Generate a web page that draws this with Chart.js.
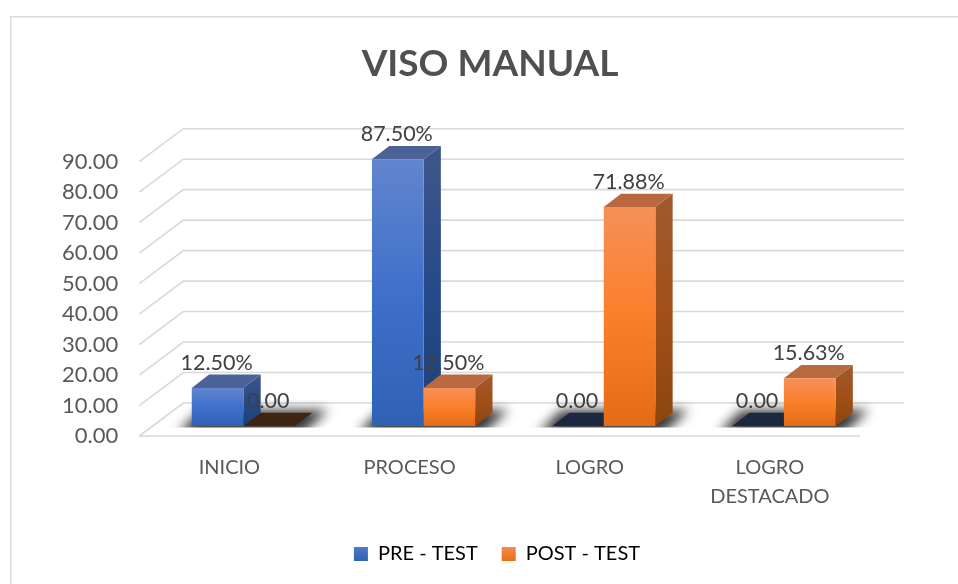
<!DOCTYPE html>
<html>
<head>
<meta charset="utf-8">
<style>html,body{margin:0;padding:0;background:#fff}canvas{display:block}</style>
<script src="https://cdn.jsdelivr.net/npm/chart.js@4/dist/chart.umd.js"></script>
</head>
<body>
<div style="width:958px;height:584px"><canvas id="c" width="958" height="584"></canvas></div>
<script>
const categories = ['INICIO', 'PROCESO', 'LOGRO', ['LOGRO', 'DESTACADO']];
const preTest = [12.5, 87.5, 0, 0];
const postTest = [0, 12.5, 71.88, 15.63];
const preLabels = ['12.50%', '87.50%', '0.00', '0.00'];
const postLabels = ['0.00', '12.50%', '71.88%', '15.63%'];
const seriesNames = ['PRE - TEST', 'POST - TEST'];

const FONT = 'Lato';
const LEFT = 139.3, RIGHT = 860, TOP = 161.7, BOTTOM = 436;
const WALL_DX = 44, WALL_DY = 33;
const BAR_SHIFT_X = 14, BAR_SHIFT_Y = -10, BAR_DX = 17.3, BAR_DY = 13.3;
const styles = [
  { front: ['#6285ce', '#3f70ca', '#2f61b5'], side: ['#3f5788', '#264a8a', '#1e3f7a'], top: '#4a6297', flat: '#1c2840', swatch: ['#4f78c8', '#2f61b5'] },
  { front: ['#f69058', '#fb7f2b', '#e56b17'], side: ['#a05a30', '#a05018', '#8e450e'], top: '#b8693f', flat: '#3f2412', swatch: ['#f58b4b', '#e96f1c'] }
];

function barGradient(c, i) {
  const chart = c.chart, s = styles[i];
  if (!chart.chartArea || c.parsed === undefined) return s.front[1];
  const y = chart.scales.y;
  const g = chart.ctx.createLinearGradient(0, y.getPixelForValue(c.parsed.y), 0, y.getPixelForValue(0));
  g.addColorStop(0, s.front[0]); g.addColorStop(.5, s.front[1]); g.addColorStop(1, s.front[2]);
  return g;
}
function poly(ctx, pts, fill) {
  ctx.beginPath();
  pts.forEach((p, i) => i ? ctx.lineTo(p[0], p[1]) : ctx.moveTo(p[0], p[1]));
  ctx.closePath();
  ctx.fillStyle = fill;
  ctx.fill();
}

const scene3d = {
  id: 'scene3d',
  afterLayout(chart) {
    const lg = chart.legend, tt = chart.titleBlock;
    tt.left += 60; tt.right += 60;
    lg.left += 67; lg.right += 67;
    const h = lg.height; lg.top = 520; lg.bottom = 520 + h;
  },
  beforeDraw(chart) {
    const ctx = chart.ctx;
    ctx.save();
    ctx.fillStyle = '#fff'; ctx.fillRect(0, 0, 958, 584);
    ctx.fillStyle = '#dcdcdc';
    ctx.fillRect(10, 16, 948, 1.5);
    ctx.fillRect(10, 16, 1.5, 568);
    ctx.restore();
  },
  beforeDatasetsDraw(chart) {
    const ctx = chart.ctx, y = chart.scales.y, a = chart.chartArea;
    ctx.save();
    // walls and floor grid, from the value axis ticks
    ctx.strokeStyle = '#d9d9d9'; ctx.lineWidth = 1.6;
    y.ticks.forEach(t => {
      const py = y.getPixelForValue(t.value);
      ctx.beginPath();
      ctx.moveTo(a.left, py);
      ctx.lineTo(a.left + WALL_DX, py - WALL_DY);
      ctx.lineTo(a.right + WALL_DX, py - WALL_DY);
      ctx.stroke();
    });
    ctx.beginPath(); ctx.moveTo(a.left, a.bottom); ctx.lineTo(a.right, a.bottom); ctx.stroke();

    const m0 = chart.getDatasetMeta(0), m1 = chart.getDatasetMeta(1);
    // floor shadow under each category
    m0.data.forEach((el, j) => {
      const e2 = m1.data[j];
      const x0 = el.x - el.width / 2 + BAR_SHIFT_X, x1 = e2.x + e2.width / 2 + BAR_SHIFT_X;
      ctx.save();
      ctx.beginPath(); ctx.rect(x0 - 40, 400, x1 - x0 + 100, 27.5); ctx.clip();
      ctx.filter = 'blur(6px)';
      poly(ctx, [[x0 - 14, 433], [x1 + 8, 433], [x1 + BAR_DX + 16, 410], [x0 + BAR_DX - 8, 410]], 'rgba(0,0,0,.8)');
      ctx.restore();
    });

    // bars: side and top faces, then the library's own bar element as the front face
    [m0, m1].forEach((meta, i) => {
      const s = styles[i];
      meta.data.forEach(el => {
        const l = el.x - el.width / 2 + BAR_SHIFT_X, r = el.x + el.width / 2 + BAR_SHIFT_X;
        const t = el.y + BAR_SHIFT_Y, b = el.base + BAR_SHIFT_Y;
        const flat = Math.abs(b - t) < .5;
        if (!flat) {
          const g = ctx.createLinearGradient(0, t - BAR_DY, 0, b);
          g.addColorStop(0, s.side[0]); g.addColorStop(.5, s.side[1]); g.addColorStop(1, s.side[2]);
          poly(ctx, [[r, t], [r + BAR_DX, t - BAR_DY], [r + BAR_DX, b - BAR_DY], [r, b]], g);
        }
        poly(ctx, [[l, t], [r, t], [r + BAR_DX, t - BAR_DY], [l + BAR_DX, t - BAR_DY]], flat ? s.flat : s.top);
        ctx.save();
        ctx.translate(BAR_SHIFT_X, BAR_SHIFT_Y);
        el.draw(ctx);
        ctx.restore();
      });
    });

    // value labels
    ctx.font = '21.5px ' + FONT;
    ctx.fillStyle = '#404040';
    ctx.textAlign = 'center';
    ctx.textBaseline = 'middle';
    [[m0, preLabels], [m1, postLabels]].forEach(([meta, labels]) => {
      meta.data.forEach((el, j) => {
        ctx.fillText(labels[j], el.x + BAR_SHIFT_X - 1, el.y + BAR_SHIFT_Y - 25);
      });
    });
    ctx.restore();
    return false;
  }
};

new Chart(document.getElementById('c'), {
  type: 'bar',
  plugins: [scene3d],
  data: {
    labels: categories,
    datasets: [
      { label: seriesNames[0], data: preTest, backgroundColor: c => barGradient(c, 0), borderWidth: 0 },
      { label: seriesNames[1], data: postTest, backgroundColor: c => barGradient(c, 1), borderWidth: 0 }
    ]
  },
  options: {
    responsive: false,
    animation: false,
    layout: { padding: { left: 0, right: 98, top: 0, bottom: 0 } },
    datasets: { bar: { categoryPercentage: .573, barPercentage: 1 } },
    scales: {
      x: {
        grid: { display: false }, border: { display: false },
        ticks: { font: { family: FONT, size: 20, lineHeight: 1.45 }, color: '#595959', padding: 9, maxRotation: 0, autoSkip: false },
        afterFit(s) { s.height = 148 - (s.chart.legend ? s.chart.legend.height : 41); }
      },
      y: {
        min: 0, max: 90,
        grid: { display: false }, border: { display: false },
        ticks: { stepSize: 10, font: { family: FONT, size: 22 }, color: '#595959', padding: 13, callback: v => Number(v).toFixed(2) },
        afterFit(s) { s.width = LEFT; }
      }
    },
    plugins: {
      tooltip: { enabled: false },
      title: {
        display: true, text: 'VISO MANUAL',
        font: { family: FONT, size: 37, weight: 'bold', lineHeight: 1.2 }, color: '#505050',
        padding: { top: 42, bottom: 75.3 }
      },
      legend: {
        position: 'bottom',
        labels: {
          font: { family: FONT, size: 20 }, color: '#595959', boxWidth: 14, boxHeight: 14, padding: 24,
          generateLabels(chart) {
            return chart.data.datasets.map((d, i) => {
              const g = chart.ctx.createLinearGradient(0, 547, 0, 561);
              g.addColorStop(0, styles[i].swatch[0]); g.addColorStop(1, styles[i].swatch[1]);
              return { text: d.label, fillStyle: g, lineWidth: 0, strokeStyle: 'transparent', datasetIndex: i, hidden: false };
            });
          }
        }
      }
    }
  }
});
</script>
</body>
</html>
